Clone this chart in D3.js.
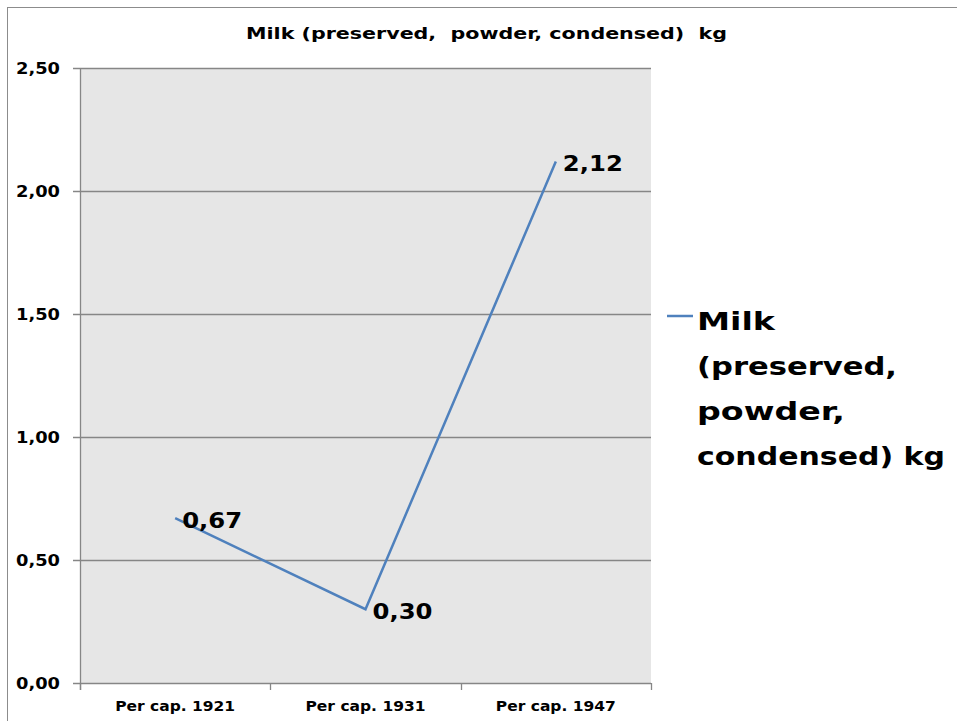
<!DOCTYPE html>
<html><head><meta charset="utf-8">
<script src="https://cdn.jsdelivr.net/npm/d3@7"></script>
<style>body{margin:0;background:#fff}svg{display:block}text{font-family:"DejaVu Sans",sans-serif;font-weight:bold;fill:#000}</style>
</head><body>
<script>
const categories = ["Per cap. 1921", "Per cap. 1931", "Per cap. 1947"];
const values = [0.67, 0.30, 2.12];
const valueLabels = ["0,67", "0,30", "2,12"];
const yTicks = [0, 0.5, 1, 1.5, 2, 2.5];
const title = "Milk (preserved,  powder, condensed)  kg";
const legendLines = ["Milk", "(preserved,", "powder,", "condensed) kg"];
const legendWidths = [78, 200, 148, 248];

const W = 957, H = 721;
const svg = d3.select("body").append("svg").attr("width", W).attr("height", H);
svg.append("rect").attr("x", 7.5).attr("y", 7.5).attr("width", W).attr("height", H).attr("fill", "#fff").attr("stroke", "#8c8c8c");

const L = 80, R = 651, T = 68, B = 683;
const x = d3.scaleBand().domain(categories).range([L, R]).padding(0);
const y = d3.scaleLinear().domain([0, 2.5]).range([B, T]);

svg.append("rect").attr("x", L).attr("y", T).attr("width", R - L).attr("height", B - T).attr("fill", "#e6e6e6");

// grid
svg.append("g").selectAll("line").data(yTicks).join("line")
  .attr("x1", L - 7).attr("x2", R).attr("y1", d => Math.round(y(d)) + 0.5).attr("y2", d => Math.round(y(d)) + 0.5)
  .attr("stroke", "#868686").attr("stroke-width", 1.3);

// y axis line
svg.append("line").attr("x1", L + 0.5).attr("x2", L + 0.5).attr("y1", T).attr("y2", B + 7).attr("stroke", "#868686").attr("stroke-width", 1.3);
// x ticks
const xt = [L, ...categories.map(c => x(c) + x.bandwidth())];
svg.append("g").selectAll("line").data(xt).join("line")
  .attr("x1", d => Math.round(d) + 0.5).attr("x2", d => Math.round(d) + 0.5).attr("y1", B).attr("y2", B + 7)
  .attr("stroke", "#868686").attr("stroke-width", 1.3);

// y labels
svg.append("g").selectAll("text").data(yTicks).join("text")
  .attr("x", 16).attr("y", d => y(d) + 6).attr("font-size", 15)
  .attr("textLength", 44).attr("lengthAdjust", "spacingAndGlyphs")
  .text(d => d.toFixed(2).replace(".", ","));

// x labels
svg.append("g").selectAll("text").data(categories).join("text")
  .attr("x", d => x(d) + x.bandwidth() / 2 - 60).attr("y", 711)
  .attr("font-size", 14).attr("textLength", 120).attr("lengthAdjust", "spacingAndGlyphs").text(d => d);

// line
const pts = categories.map((c, i) => [x(c) + x.bandwidth() / 2, y(values[i])]);
svg.append("path").attr("d", d3.line()(pts)).attr("fill", "none").attr("stroke", "#4f81bd").attr("stroke-width", 2.5);

// value labels
svg.append("g").selectAll("text").data(pts).join("text")
  .attr("x", d => d[0] + 7).attr("y", d => d[1] + 10).attr("font-size", 21)
  .attr("textLength", 60).attr("lengthAdjust", "spacingAndGlyphs")
  .text((d, i) => valueLabels[i]);

// title
svg.append("text").attr("x", 246).attr("y", 39).attr("font-size", 16)
  .attr("textLength", 481).attr("lengthAdjust", "spacingAndGlyphs")
  .attr("xml:space", "preserve").text(title);

// legend
svg.append("line").attr("x1", 667).attr("x2", 693).attr("y1", 316).attr("y2", 316).attr("stroke", "#4f81bd").attr("stroke-width", 2.5);
svg.append("g").selectAll("text").data(legendLines).join("text")
  .attr("x", 697).attr("y", (d, i) => 330 + i * 45).attr("font-size", 25)
  .attr("textLength", (d, i) => legendWidths[i]).attr("lengthAdjust", "spacingAndGlyphs").text(d => d);
</script>
</body></html>
